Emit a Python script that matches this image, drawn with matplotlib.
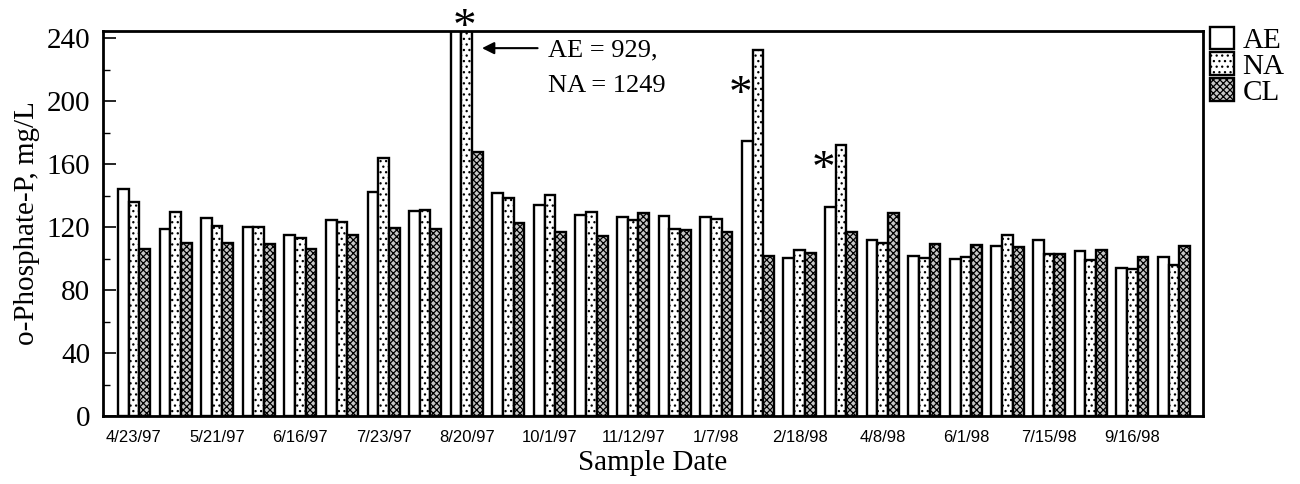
import matplotlib
matplotlib.use("Agg")
import matplotlib.pyplot as plt
import numpy as np
from matplotlib.patches import Patch
from matplotlib.ticker import MultipleLocator

plt.rcParams['hatch.linewidth'] = 0.9

# ---- data ----
tick_labels = ["4/23/97", "", "5/21/97", "", "6/16/97", "", "7/23/97", "",
               "8/20/97", "", "10/1/97", "", "11/12/97", "", "1/7/98", "",
               "2/18/98", "", "4/8/98", "", "6/1/98", "", "7/15/98", "",
               "9/16/98", ""]
ae = [144, 118.5, 125.7, 120, 115, 124.7, 142, 130, 929, 141.8, 134.2, 127.8, 126.6,
      127, 126.2, 174.8, 100.1, 132.7, 111.7, 101.8, 99.5, 107.9, 111.7, 104.8, 94.2, 101]
na = [135.6, 129.7, 120.8, 120, 112.8, 123, 164, 130.6, 1249, 138.4, 140.1, 129.5, 124.7,
      118.5, 125.3, 232.2, 105.6, 172, 109.6, 100.1, 100.7, 114.7, 102.7, 98.9, 93.3, 95.9]
cl = [106, 110, 110, 109.2, 105.8, 115, 119.4, 118.7, 167.8, 122.7, 116.6, 114.1, 129.1,
      117.9, 116.8, 101.4, 103.7, 116.6, 129.1, 109.4, 108.6, 107.1, 102.7, 105.2, 101.2, 107.9]
series_names = ["AE", "NA", "CL"]

serif = ['Liberation Serif', 'DejaVu Serif']

fig = plt.figure(figsize=(13, 4.84), dpi=100)
ax = fig.add_axes([0.0792, 0.1405, 0.8462, 0.7955])

x = np.arange(len(ae))
w = 0.257
styles = [dict(facecolor='white', hatch=None),
          dict(facecolor='white', hatch='...'),
          dict(facecolor='#c8c8c8', hatch='xxxxx')]
for k, vals in enumerate([ae, na, cl]):
    ax.bar(x + (k - 1) * w, vals, width=w, edgecolor='black', linewidth=1.7,
           **styles[k])

ax.set_xlim(-0.745, 25.7)
ax.set_ylim(0, 244.5)
ax.yaxis.set_major_locator(MultipleLocator(40))
ax.yaxis.set_minor_locator(MultipleLocator(20))
ax.tick_params(axis='y', which='major', direction='in', length=9, width=1.2,
               labelsize=21, pad=9)
ax.tick_params(axis='y', which='minor', direction='in', length=5, width=1.0)
ax.set_xticks(x)
ax.set_xticklabels(tick_labels, fontsize=12, family=['Liberation Sans', 'DejaVu Sans'])
ax.tick_params(axis='x', length=0, pad=10)
for lab in ax.get_yticklabels():
    lab.set_family(serif)
for sp in ax.spines.values():
    sp.set_linewidth(2.0)

ax.set_ylabel("o-Phosphate-P, mg/L", fontsize=21, family=serif, labelpad=5)
ax.set_xlabel("Sample Date", fontsize=21, family=serif, labelpad=4)

# asterisks
ax.text(8 - 0.05, 246, "*", fontsize=34, family=serif, ha='center', va='center',
        clip_on=False)
for g, yv in [(15, 203.5), (17, 155.5)]:
    ax.text(g - 0.43, yv, "*", fontsize=34, family=serif, ha='center', va='center')

# annotation
ax.annotate("", xy=(8.30, 233.6), xytext=(9.77, 233.6),
            arrowprops=dict(arrowstyle='-|>', color='black', lw=1.5,
                            mutation_scale=18))
ax.text(9.96, 232.4, "AE = 929,", fontsize=19, family=serif, ha='left', va='center')
ax.text(9.96, 209.5, "NA = 1249", fontsize=19, family=serif, ha='left', va='center')

handles = [Patch(edgecolor='black', linewidth=1.7, label=n, **styles[k])
           for k, n in enumerate(series_names)]
fig.legend(handles=handles, loc='upper left', bbox_to_anchor=(0.931, 0.945),
           frameon=False, prop={'family': serif, 'size': 21},
           handlelength=0.8, handleheight=0.8, handletextpad=0.3,
           labelspacing=-0.05, borderpad=0, borderaxespad=0)

fig.savefig("out.png", dpi=100)
